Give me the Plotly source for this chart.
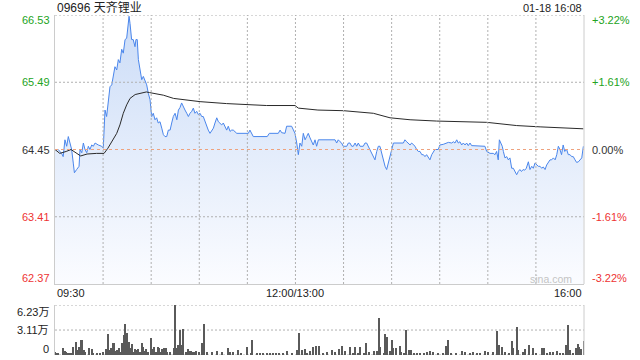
import plotly.graph_objects as go

# ---------------- data ----------------
# minutes on the trading clock since 09:30 (12:00 and 13:00 share minute 150)
minutes = [0.0, 2.0, 4.1, 5.1, 6.2, 7.3, 8.3, 9.4, 10.4, 11.4, 12.1, 13.5, 15.0, 15.6, 16.7, 17.7, 18.7, 19.8,
           20.8, 21.8, 22.9, 23.9, 25.0, 27.0, 29.1, 30.1, 31.2, 32.2, 33.2, 34.3, 35.4, 36.4, 37.4, 38.5, 39.5,
           40.5, 41.6, 42.6, 43.7, 44.7, 45.4, 46.2, 46.8, 47.8, 48.8, 49.9, 50.5, 51.3, 52.0, 53.0, 54.1, 55.1,
           56.1, 57.2, 58.2, 59.3, 60.3, 61.3, 62.4, 63.4, 64.4, 65.5, 66.6, 67.6, 68.6, 69.7, 70.7, 71.8, 72.8,
           73.8, 74.9, 76.0, 77.0, 78.0, 79.0, 80.0, 81.1, 82.2, 83.2, 84.2, 85.3, 86.3, 87.3, 88.4, 89.4, 90.5,
           91.5, 92.5, 93.6, 94.6, 95.6, 96.7, 97.8, 98.8, 99.8, 100.9, 101.9, 103.0, 104.0, 105.0, 106.0, 107.1,
           108.1, 109.2, 110.2, 111.2, 113.4, 117.5, 120.6, 121.6, 122.7, 123.7, 127.9, 132.4, 133.7, 139.3,
           140.4, 141.4, 143.5, 144.5, 147.6, 148.7, 149.7, 150.8, 151.8, 152.8, 153.9, 154.9, 156.0, 157.0,
           158.0, 159.1, 160.1, 161.1, 162.2, 163.2, 164.3, 165.3, 174.7, 175.7, 176.7, 177.8, 178.8, 179.8,
           182.0, 183.0, 184.0, 185.1, 186.1, 187.2, 188.2, 189.2, 190.3, 192.3, 193.4, 194.4, 195.4, 196.5,
           197.6, 198.6, 199.6, 200.7, 201.7, 202.7, 203.8, 204.8, 205.9, 206.9, 207.9, 209.0, 210.0, 211.1,
           217.3, 218.3, 219.4, 220.4, 221.5, 222.5, 223.5, 224.6, 225.6, 226.6, 227.7, 228.8, 229.8, 230.8,
           231.8, 232.9, 233.9, 235.0, 236.0, 237.0, 239.1, 240.1, 242.2, 245.4, 247.5, 248.5, 249.5, 250.6,
           251.6, 252.6, 253.7, 254.7, 255.8, 256.8, 257.8, 258.9, 259.9, 261.0, 267.2, 268.2, 269.3, 271.4,
           273.4, 274.5, 275.5, 276.5, 277.2, 278.0, 279.0, 279.7, 280.7, 281.8, 282.8, 283.8, 284.9, 285.9,
           287.0, 288.0, 289.0, 290.0, 291.0, 292.0, 293.0, 294.0, 295.3, 296.3, 297.4, 298.4, 299.4, 300.5,
           301.5, 302.6, 303.6, 304.6, 305.7, 306.7, 307.7, 308.8, 309.8, 310.9, 312.0, 313.0, 314.0, 315.0,
           316.0, 317.0, 318.0, 319.2, 320.2, 321.3, 322.3, 323.3, 324.4, 325.4, 326.5, 327.5, 328.6, 329.6]
prices = [64.45, 64.45, 64.39, 64.34, 64.60, 64.50, 64.65, 64.55, 64.45, 64.24, 64.09, 64.14, 64.19, 64.45, 64.40,
          64.55, 64.45, 64.40, 64.50, 64.45, 64.52, 64.50, 64.55, 64.52, 64.50, 64.47, 65.06, 64.96, 65.17, 65.42,
          65.45, 65.63, 65.73, 65.68, 65.84, 65.79, 66.00, 65.94, 66.15, 66.17, 66.35, 66.51, 66.40, 66.15, 66.15,
          66.04, 66.15, 66.15, 65.84, 65.68, 65.53, 65.58, 65.53, 65.45, 65.32, 65.22, 64.96, 65.01, 64.91, 64.94,
          64.86, 64.88, 64.78, 64.68, 64.65, 64.65, 64.75, 64.75, 64.86, 64.96, 65.01, 64.91, 65.06, 65.10, 65.17,
          65.11, 65.06, 65.01, 64.96, 65.01, 65.04, 65.09, 65.01, 65.04, 64.99, 65.01, 64.96, 64.96, 64.88, 64.81,
          64.75, 64.70, 64.75, 64.78, 64.86, 64.94, 64.88, 64.86, 64.83, 64.86, 64.81, 64.75, 64.81, 64.73, 64.75,
          64.75, 64.70, 64.70, 64.70, 64.75, 64.70, 64.65, 64.65, 64.65, 64.70, 64.70, 64.75, 64.71, 64.70, 64.81,
          64.81, 64.75, 64.70, 64.55, 64.37, 64.55, 64.50, 64.70, 64.60, 64.65, 64.70, 64.63, 64.57, 64.52, 64.60,
          64.50, 64.60, 64.60, 64.60, 64.55, 64.60, 64.57, 64.55, 64.50, 64.50, 64.55, 64.55, 64.50, 64.50, 64.55,
          64.50, 64.55, 64.50, 64.50, 64.55, 64.55, 64.50, 64.42, 64.37, 64.32, 64.29, 64.42, 64.50, 64.50, 64.39,
          64.26, 64.19, 64.14, 64.24, 64.32, 64.42, 64.55, 64.55, 64.60, 64.57, 64.55, 64.52, 64.55, 64.52, 64.50,
          64.45, 64.42, 64.42, 64.37, 64.37, 64.34, 64.37, 64.32, 64.29, 64.37, 64.42, 64.45, 64.45, 64.52, 64.53,
          64.56, 64.55, 64.57, 64.55, 64.60, 64.55, 64.57, 64.52, 64.55, 64.52, 64.55, 64.51, 64.55, 64.51, 64.51,
          64.51, 64.50, 64.42, 64.39, 64.39, 64.37, 64.42, 64.29, 64.60, 64.55, 64.50, 64.42, 64.32, 64.34, 64.29,
          64.32, 64.16, 64.16, 64.11, 64.06, 64.11, 64.14, 64.11, 64.14, 64.13, 64.16, 64.26, 64.14, 64.19, 64.16,
          64.24, 64.21, 64.19, 64.19, 64.16, 64.18, 64.14, 64.21, 64.26, 64.29, 64.29, 64.32, 64.29, 64.37, 64.50,
          64.45, 64.37, 64.52, 64.42, 64.45, 64.37, 64.37, 64.34, 64.34, 64.29, 64.25, 64.26, 64.29, 64.32, 64.50]

avg_minutes = [0, 3, 7, 10, 16, 20, 26, 30.6, 33, 35, 38.5, 40.5, 42.6, 44.7, 46.8, 50, 53, 57, 59, 63, 67.6,
               74, 80, 90.5, 107, 119.6, 132, 149.7, 151.8, 164, 180, 198.6, 201.7, 209, 221.5, 238, 269.3,
               276.5, 288, 302.6, 329.6]
avg_prices = [64.45, 64.39, 64.42, 64.45, 64.35, 64.38, 64.39, 64.39, 64.47, 64.55, 64.70, 64.83, 65.01, 65.14,
              65.24, 65.30, 65.32, 65.34, 65.33, 65.31, 65.29, 65.24, 65.22, 65.19, 65.16, 65.15, 65.13, 65.13,
              65.09, 65.06, 65.05, 65.01, 64.99, 64.94, 64.91, 64.89, 64.87, 64.85, 64.82, 64.80, 64.77]

# volume in 万 shares
vol_minutes = [0, 1, 2, 5, 6, 7, 8, 9, 10, 11, 13, 14, 15, 16, 17, 18, 19, 21, 23, 24, 26, 28, 30, 32, 33, 34,
               35, 36, 37, 38, 39, 40, 41, 42, 43, 44, 45, 46, 47, 48, 49, 50, 51, 52, 53, 54, 55, 56, 57, 58,
               60, 61, 62, 63, 64, 65, 66, 67, 68, 69, 70, 72, 74, 75, 76, 77, 78, 79, 80, 82, 83, 84, 85, 86,
               87, 88, 90, 92, 93, 95, 98, 101, 104, 108, 109, 111, 114, 116, 120, 122, 123, 126, 128, 130, 132,
               134, 136, 138, 140, 142, 145, 148, 151, 152, 154, 156, 157, 159, 161, 163, 165, 167, 170, 173,
               175, 177, 179, 181, 184, 186, 187, 189, 190, 193, 194, 196, 199, 201, 202, 203, 205, 206, 207,
               209, 210, 211, 213, 215, 216, 218, 219, 221, 222, 224, 226, 228, 230, 232, 234, 236, 239, 242,
               244, 245, 247, 250, 254, 256, 259, 261, 263, 265, 268, 270, 273, 276, 277, 279, 281, 283, 285,
               286, 288, 289, 292, 293, 296, 298, 300, 304, 305, 307, 309, 311, 313, 315, 317, 319, 320, 321,
               323, 325, 326, 327, 328, 330]
volumes = [0.41, 0.21, 0.29, 0.83, 0.54, 0.41, 0.29, 0.21, 0.29, 0.96, 1.66, 0.62, 1.04, 1.87, 1.87, 0.62, 0.41,
           0.83, 0.71, 0.29, 0.21, 0.21, 0.41, 0.71, 2.62, 0.62, 0.83, 1.45, 1.45, 0.50, 0.62, 0.83, 0.41, 1.45,
           2.49, 3.86, 2.78, 1.66, 0.83, 1.37, 0.41, 0.71, 0.62, 0.71, 0.41, 1.45, 0.96, 0.54, 0.71, 0.41, 2.08,
           0.71, 0.96, 0.41, 0.96, 0.83, 0.41, 0.71, 0.83, 0.83, 0.41, 0.41, 0.83, 6.23, 0.83, 1.25, 3.11, 1.25,
           3.20, 0.41, 0.71, 0.54, 0.54, 0.41, 0.41, 0.54, 0.41, 1.53, 3.86, 0.41, 0.41, 0.54, 0.41, 0.83, 0.41,
           0.41, 0.62, 0.29, 0.96, 0.29, 1.87, 0.21, 0.21, 0.17, 0.21, 0.17, 0.21, 0.21, 0.17, 0.21, 0.50, 0.29,
           0.62, 2.78, 0.62, 0.71, 0.29, 0.54, 0.96, 1.12, 1.12, 0.29, 0.41, 0.62, 0.41, 0.71, 1.12, 0.54, 0.96,
           0.29, 0.96, 0.29, 0.96, 0.21, 1.53, 0.41, 0.54, 0.54, 4.57, 0.96, 0.29, 2.62, 2.20, 0.54, 1.87, 0.83,
           0.83, 1.12, 0.41, 0.29, 3.11, 0.62, 0.62, 0.29, 0.21, 0.17, 0.21, 0.41, 0.50, 0.41, 0.21, 0.29, 1.12,
           1.87, 0.21, 0.21, 0.50, 0.41, 0.29, 0.41, 0.29, 0.21, 0.54, 0.41, 0.41, 3.03, 1.25, 0.96, 0.41, 0.29,
           1.78, 0.83, 3.45, 0.62, 0.41, 0.71, 1.25, 0.83, 0.21, 0.83, 0.83, 0.29, 0.41, 0.41, 0.54, 0.21, 0.29,
           1.25, 3.74, 0.62, 0.29, 0.83, 1.37, 0.96, 0.71, 1.78]

prev_close = 64.45
price_ticks = [62.37, 63.41, 64.45, 65.49, 66.53]
price_tick_text = ["62.37", "63.41", "64.45", "65.49", "66.53"]
pct_tick_text = ["-3.22%", "-1.61%", "0.00%", "+1.61%", "+3.22%"]
vol_ticks = [0, 3.11, 6.23]
vol_tick_text = ["0", "3.11万", "6.23万"]
time_ticks = [0, 150, 330]
time_labels = ["09:30", "12:00/13:00", "16:00"]
grid_minutes = list(range(0, 331, 30))
title_text = "09696 天齐锂业"
stamp_text = "01-18 16:08"

# ---------------- styling ----------------
FONT = "Liberation Sans, Arial, Noto Sans CJK SC, sans-serif"
GREEN = "#22a322"
RED = "#ee3333"
DARK = "#333333"
GRID = "#b0b0b0"
AXIS = "#cccccc"
LINE_BLUE = "#4a86ec"
DOT = "2px,2px"

W, H = 640, 360
L, R, T, B = 55, 56, 15, 5
plot_h = H - T - B
main_bottom_px = 284
vol_top_px = 305


def py(px):
    return (H - B - px) / plot_h


def pxx(px):
    return (px - L) / (W - L - R)


fig = go.Figure()

# baseline for the gradient fill
fig.add_trace(go.Scatter(x=[minutes[0], minutes[-1]], y=[price_ticks[0], price_ticks[0]],
                         mode="lines", line=dict(width=0), hoverinfo="skip", showlegend=False,
                         xaxis="x", yaxis="y"))
fig.add_trace(go.Scatter(x=minutes, y=prices, mode="lines",
                         line=dict(color=LINE_BLUE, width=1),
                         fill="tonexty",
                         fillgradient=dict(type="vertical",
                                           colorscale=[[0, "#fbfcff"], [1, "#cbdcf7"]],
                                           start=price_ticks[0], stop=price_ticks[-1]),
                         showlegend=False, xaxis="x", yaxis="y"))
fig.add_trace(go.Scatter(x=avg_minutes, y=avg_prices, mode="lines",
                         line=dict(color="#2a2a2a", width=1),
                         showlegend=False, xaxis="x", yaxis="y"))
fig.add_trace(go.Bar(x=vol_minutes, y=volumes, width=0.7,
                     marker=dict(color="#5a5a5a", line=dict(width=0)),
                     showlegend=False, xaxis="x2", yaxis="y2"))

fig.update_layout(
    width=W, height=H,
    margin=dict(l=L, r=R, t=T, b=B, pad=0),
    paper_bgcolor="white", plot_bgcolor="white",
    font=dict(family=FONT, size=11, color=DARK),
    bargap=0,
    xaxis=dict(domain=[0, 1], range=[0, 330], showticklabels=False, showgrid=False,
               showline=True, linecolor=AXIS, linewidth=1, zeroline=False, ticks="",
               anchor="y"),
    yaxis=dict(domain=[py(main_bottom_px), 1], range=[price_ticks[0], price_ticks[-1]],
               showticklabels=False, showgrid=False,
               showline=True, linecolor=AXIS, linewidth=1, zeroline=False, ticks="",
               anchor="x"),
    xaxis2=dict(domain=[0, 1], range=[0, 330], showticklabels=False, showgrid=False,
                showline=False, zeroline=False, ticks="", anchor="y2", matches="x"),
    yaxis2=dict(domain=[0, py(vol_top_px)], range=[0, vol_ticks[-1]],
                showticklabels=False, showgrid=False,
                showline=True, linecolor=AXIS, linewidth=1, zeroline=False, ticks="",
                anchor="x2"),
)

shapes = []
# dotted grid of the price panel (drawn above the fill, as in the reference)
for m in grid_minutes[1:-1]:
    shapes.append(dict(type="line", xref="x", yref="y domain", x0=m, x1=m, y0=0, y1=1,
                       line=dict(color=GRID, width=1, dash=DOT), layer="above"))
for v in price_ticks[1:]:
    if v == prev_close:
        continue
    shapes.append(dict(type="line", xref="x domain", yref="y", x0=0, x1=1, y0=v, y1=v,
                       line=dict(color=GRID, width=1, dash=DOT), layer="above"))
# dotted grid of the volume panel
for v in vol_ticks:
    shapes.append(dict(type="line", xref="x2 domain", yref="y2", x0=0, x1=1, y0=v, y1=v,
                       line=dict(color=GRID, width=1, dash=DOT), layer="below"))
# previous close dashed line
shapes.append(dict(type="line", xref="x domain", yref="y", x0=0, x1=1, y0=prev_close, y1=prev_close,
                   line=dict(color="#eea27e", width=1, dash="3px,3px"), layer="above"))
# right borders
shapes.append(dict(type="line", xref="paper", yref="paper", x0=1, x1=1, y0=py(main_bottom_px), y1=1,
                   line=dict(color=AXIS, width=1)))
shapes.append(dict(type="line", xref="paper", yref="paper", x0=1, x1=1, y0=0, y1=py(vol_top_px),
                   line=dict(color=AXIS, width=1)))
fig.update_layout(shapes=shapes)

ann = []
ann.append(dict(text=title_text, xref="paper", yref="paper", x=0, y=py(7.5), xanchor="left",
                yanchor="middle", showarrow=False, font=dict(size=12, color="#222")))
ann.append(dict(text=stamp_text, xref="paper", yref="paper", x=1, y=py(7.5), xanchor="right",
                yanchor="middle", showarrow=False, font=dict(size=11, color="#222")))

n = len(price_ticks)
for i, (v, t, pt) in enumerate(zip(price_ticks, price_tick_text, pct_tick_text)):
    if v > prev_close:
        col = GREEN
    elif v < prev_close:
        col = RED
    else:
        col = DARK
    shift = 6 if i == 0 else (-5 if i == n - 1 else 0)
    ann.append(dict(text=t, xref="paper", yref="y", x=pxx(52), y=v, xanchor="right", yanchor="middle",
                    yshift=shift, showarrow=False, font=dict(size=11, color=col)))
    ann.append(dict(text=pt, xref="paper", yref="y", x=pxx(590), y=v, xanchor="left", yanchor="middle",
                    yshift=shift, showarrow=False, font=dict(size=11, color=col)))

anchors = ["left", "center", "right"]
for m, lab, a in zip(time_ticks, time_labels, anchors):
    ann.append(dict(text=lab, xref="x", yref="paper", x=m, y=py(292.7), xanchor=a, yanchor="middle",
                    showarrow=False, font=dict(size=11, color="#222")))

for i, (v, t) in enumerate(zip(vol_ticks, vol_tick_text)):
    shift = 6.5 if i == 0 else (-6.5 if i == len(vol_ticks) - 1 else 0)
    ann.append(dict(text=t, xref="paper", yref="y2", x=pxx(51), y=v, xanchor="right", yanchor="middle",
                    yshift=shift, showarrow=False, font=dict(size=11, color="#222")))

ann.append(dict(text="sina.com", xref="paper", yref="paper", x=pxx(574), y=py(279.3), xanchor="right",
                yanchor="middle", showarrow=False, font=dict(size=10.5, color="#c4c4c4")))

fig.update_layout(annotations=ann)

fig.write_html("out.html")
